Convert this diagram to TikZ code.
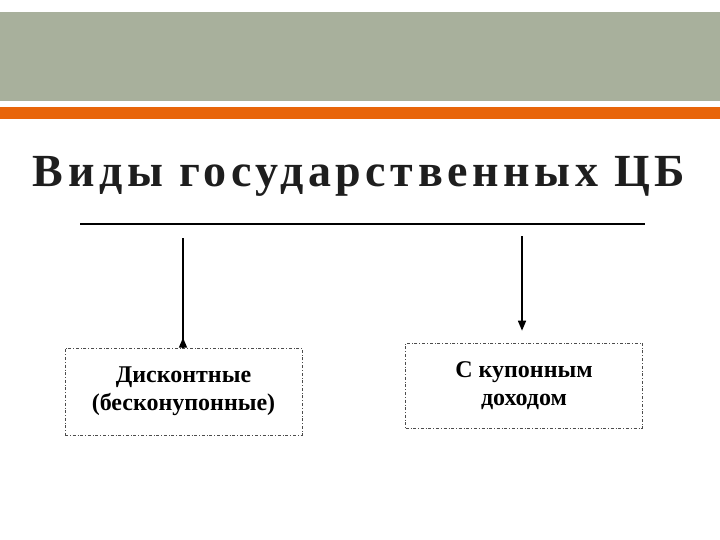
\documentclass[tikz,border=0pt]{standalone}
\usepackage{fontspec}
\setmainfont{Liberation Serif}
\usetikzlibrary{arrows.meta}
\definecolor{band}{HTML}{A8B09C}
\definecolor{orng}{HTML}{E8650A}
\definecolor{ttl}{HTML}{1E1E1E}
\tikzset{x=1pt,y=-1pt,
 boxst/.style={draw=black!70,line width=0.6pt,dash dot,minimum width=237pt,inner sep=0pt,align=center,font=\bfseries\fontsize{24}{28}\selectfont},
 arr/.style={line width=1.6pt,-{Triangle[length=10pt,width=8pt]}}}
\begin{document}
\begin{tikzpicture}
\useasboundingbox (0,0) rectangle (720,540);
\fill[band] (0,12) rectangle (720,101);
\fill[orng] (0,107) rectangle (720,119);
\node[anchor=base,text=ttl,font=\bfseries\fontsize{46}{50}\selectfont\addfontfeature{LetterSpace=10}] (t) at (359,187) {Виды государственных ЦБ};
\coordinate (l1) at (80,224); \coordinate (l2) at (645,224);
\draw[line width=1.4pt] (l1) -- (l2);
\node[boxst,minimum height=87pt] (b1) at (183.5,391.5) {Дисконтные\\(бесконупонные)};
\node[boxst,minimum height=85pt] (b2) at (524,385.5) {С купонным\\доходом};
\coordinate (a1) at (183,238); \coordinate (a2) at (522,236);
\draw[arr] (a1) -- (a1 |- b1.north) ++(0,-10);
\draw[arr] (a2) -- ([yshift=12pt]a2 |- b2.north);
\end{tikzpicture}
\end{document}
